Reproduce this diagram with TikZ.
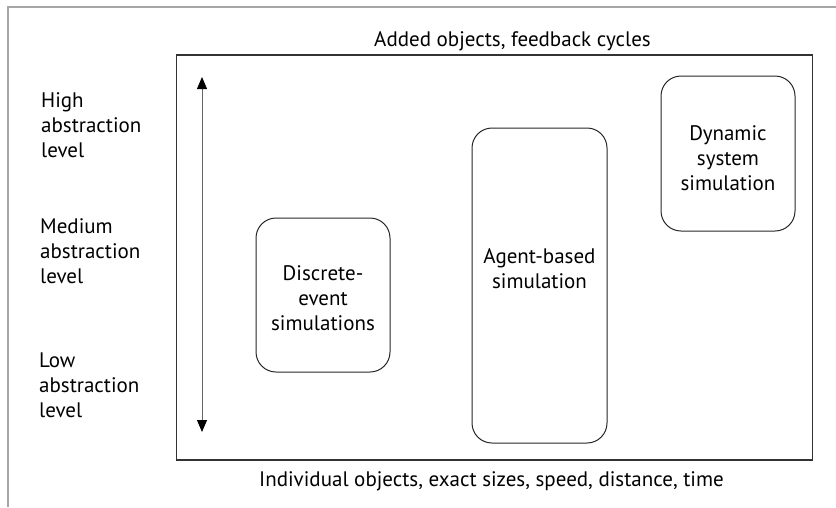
\documentclass[tikz,border=0pt]{standalone}
\usepackage{fontspec}
\setmainfont{PT Sans}
\usetikzlibrary{arrows.meta}
\begin{document}
\begin{tikzpicture}[x=1pt,y=-1pt,
  frameline/.style={draw=black!35, line width=1.5pt},
  mainrect/.style={draw=black!80, line width=1.2pt},
  simbox/.style={draw=black!85, line width=1pt, rounded corners=20pt},
  lbl/.style={inner sep=0pt, font=\fontsize{21}{25}\selectfont},
  axis/.style={draw=black!60, line width=0.8pt, {Triangle[width=10pt,length=12pt,color=black]}-{Triangle[width=10pt,length=12pt,color=black]}}
]
\useasboundingbox (0,0) rectangle (836,507);
\coordinate (fbl) at (8,507);
\coordinate (ftl) at (8,7);
\coordinate (ftr) at (836,7);
\draw[frameline] (fbl) -- (ftl) -- (ftr);
\coordinate (m1) at (176.5,55);
\coordinate (m2) at (812.5,460);
\draw[mainrect] (m1) rectangle (m2);

\node[lbl, anchor=base] (top) at (512.5,46) {Added objects, feedback cycles};
\node[lbl, anchor=base] (bot) at (491.5,486) {Individual objects, exact sizes, speed, distance, time};

\node[lbl, anchor=base west] (high) at (41,107) {\begin{tabular}[t]{@{}l@{}}High\\abstraction\\level\end{tabular}};
\node[lbl, anchor=base west] (med) at (40,233) {\begin{tabular}[t]{@{}l@{}}Medium\\abstraction\\level\end{tabular}};
\node[lbl, anchor=base west] (low) at (39,367) {\begin{tabular}[t]{@{}l@{}}Low\\abstraction\\level\end{tabular}};

\coordinate (atop) at (202,77);
\coordinate (abot) at (202,432);
\draw[axis] (atop) -- (abot);

\node[simbox, minimum width=134pt, minimum height=154pt] (des) at (323,295) {};
\node[lbl, anchor=base] (destext) at (323,280) {\begin{tabular}[t]{@{}c@{}}Discrete-\\event\\simulations\end{tabular}};

\node[simbox, minimum width=135pt, minimum height=315pt] (abs) at (539.5,285.5) {};
\node[lbl, anchor=base] (abstext) at (539.5,263) {\begin{tabular}[t]{@{}c@{}}Agent-based\\simulation\end{tabular}};

\node[simbox, minimum width=134pt, minimum height=155pt] (dss) at (728,153.5) {};
\node[lbl, anchor=base] (dsstext) at (728,140) {\begin{tabular}[t]{@{}c@{}}Dynamic\\system\\simulation\end{tabular}};
\end{tikzpicture}
\end{document}
